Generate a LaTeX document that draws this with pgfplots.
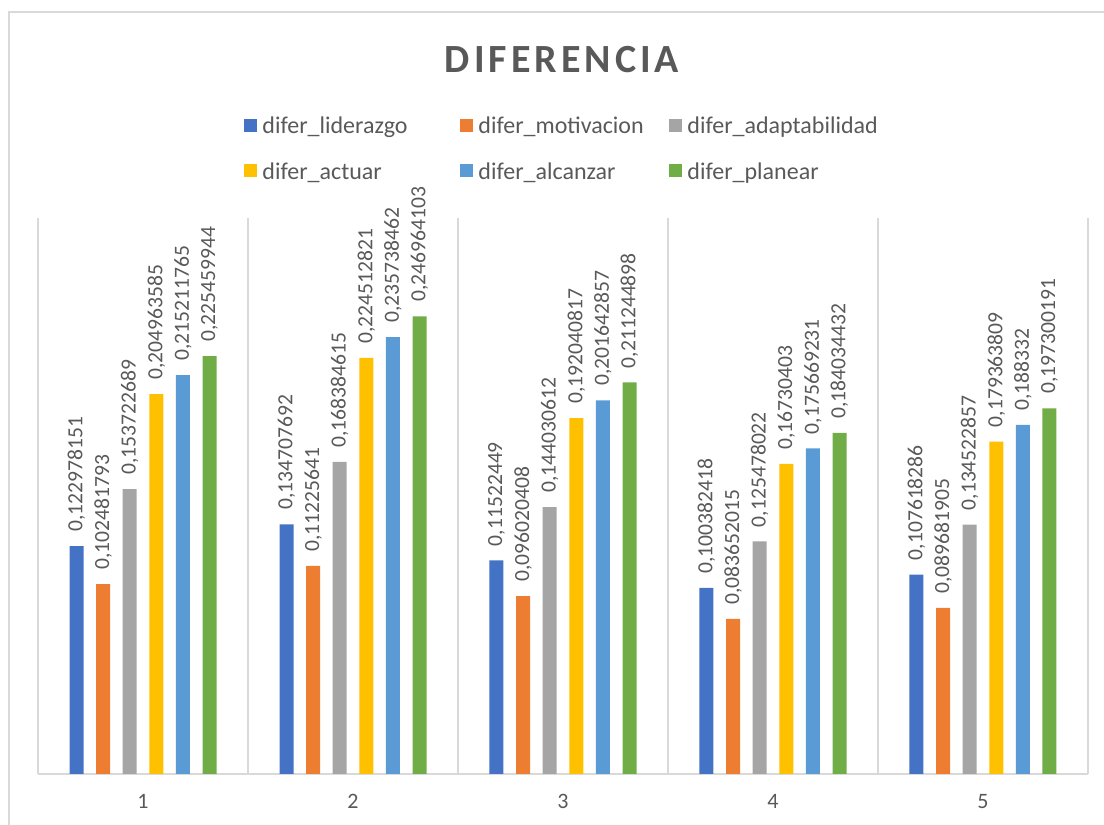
\documentclass[border=0pt]{standalone}
\usepackage{fontspec}
\setmainfont{Carlito}
\usepackage{pgfplots}
\usepackage{pgfplotstable}
\pgfplotsset{compat=1.18}

\definecolor{txt}{HTML}{595959}
\definecolor{gridc}{HTML}{D9D9D9}
\definecolor{cA}{HTML}{4472C4}
\definecolor{cB}{HTML}{ED7D31}
\definecolor{cC}{HTML}{A5A5A5}
\definecolor{cD}{HTML}{FFC000}
\definecolor{cE}{HTML}{5B9BD5}
\definecolor{cF}{HTML}{70AD47}

% one table per series: group, value, printed label
\pgfplotstableread{
x y lbl
1 0.122978151 0,122978151
2 0.134707692 0,134707692
3 0.11522449  0,11522449
4 0.100382418 0,100382418
5 0.107618286 0,107618286
}\liderazgo
\pgfplotstableread{
x y lbl
1 0.102481793 0,102481793
2 0.11225641  0,11225641
3 0.096020408 0,096020408
4 0.083652015 0,083652015
5 0.089681905 0,089681905
}\motivacion
\pgfplotstableread{
x y lbl
1 0.153722689 0,153722689
2 0.168384615 0,168384615
3 0.144030612 0,144030612
4 0.125478022 0,125478022
5 0.134522857 0,134522857
}\adaptabilidad
\pgfplotstableread{
x y lbl
1 0.204963585 0,204963585
2 0.224512821 0,224512821
3 0.192040817 0,192040817
4 0.16730403  0,16730403
5 0.179363809 0,179363809
}\actuar
\pgfplotstableread{
x y lbl
1 0.215211765 0,215211765
2 0.235738462 0,235738462
3 0.201642857 0,201642857
4 0.175669231 0,175669231
5 0.188332    0,188332
}\alcanzar
\pgfplotstableread{
x y lbl
1 0.225459944 0,225459944
2 0.246964103 0,246964103
3 0.211244898 0,211244898
4 0.184034432 0,184034432
5 0.197300191 0,197300191
}\planear

\pgfplotsset{
  sq legend/.style={legend image code/.code={\fill[##1] (0pt,-3.25pt) rectangle (6.5pt,3.25pt);}},
}
% legend text cells with a fixed width per column
\newcommand\entry[2][99pt]{\makebox[#1][l]{\strut #2}}

\begin{document}
\begin{tikzpicture}
\useasboundingbox (0,0) rectangle (552pt,412.5pt);
% chart area frame
\draw[gridc, line width=1pt] (4.5pt,-2pt) -- (4.5pt,406.5pt) -- (560pt,406.5pt);

\begin{axis}[
  at={(19pt,25.5pt)}, anchor=south west,
  scale only axis, width=525pt, height=278pt,
  clip=false,
  xmin=0.5, xmax=5.5, ymin=0, ymax=0.3,
  ybar=6.3pt, bar width=7pt,
  axis lines*=left,
  x axis line style={gridc, line width=0.75pt},
  y axis line style={draw=none},
  ytick=\empty,
  xtick={1,2,3,4,5}, xticklabels={1,2,3,4,5},
  major tick length=0pt, minor tick length=0pt,
  minor xtick={0.5,1.5,2.5,3.5,4.5,5.5},
  xminorgrids, minor grid style={gridc, line width=0.75pt},
  x tick label style={font=\fontsize{11}{13}\selectfont, text=txt, yshift=-6.5pt},
  nodes near coords,
  point meta=explicit symbolic,
  every node near coord/.append style={rotate=90, anchor=west, inner xsep=7pt, inner ysep=0pt,
    font=\fontsize{10.8}{13}\selectfont, text=txt},
  legend columns=3,
  legend cell align=left,
  legend style={draw=none, fill=none, inner sep=0pt, outer sep=0pt,
    at={(0.5,1)}, anchor=north, yshift=52.2pt, xshift=1pt,
    font=\fontsize{12}{14.4}\selectfont, text=txt,
    nodes={inner sep=0pt},
    row sep=11.1pt,
    /tikz/every odd column/.style={column sep=2.5pt},
    /tikz/every even column/.style={column sep=0pt}},
]
\addplot[fill=cA, draw=none, sq legend] table[x=x, y=y, meta=lbl] {\liderazgo};
\addlegendentry{\entry{difer\_liderazgo}}
\addplot[fill=cB, draw=none, sq legend] table[x=x, y=y, meta=lbl] {\motivacion};
\addlegendentry{\entry[95.5pt]{difer\_motivacion}}
\addplot[fill=cC, draw=none, sq legend] table[x=x, y=y, meta=lbl] {\adaptabilidad};
\addlegendentry{\entry{difer\_adaptabilidad}}
\addplot[fill=cD, draw=none, sq legend] table[x=x, y=y, meta=lbl] {\actuar};
\addlegendentry{\entry{difer\_actuar}}
\addplot[fill=cE, draw=none, sq legend] table[x=x, y=y, meta=lbl] {\alcanzar};
\addlegendentry{\entry[95.5pt]{difer\_alcanzar}}
\addplot[fill=cF, draw=none, sq legend] table[x=x, y=y, meta=lbl] {\planear};
\addlegendentry{\entry{difer\_planear}}
\end{axis}

\node[anchor=base, text=txt, font=\bfseries\fontsize{20}{24}\selectfont\addfontfeature{LetterSpace=10}]
  at (281pt,376pt) {DIFERENCIA};
\end{tikzpicture}
\end{document}
